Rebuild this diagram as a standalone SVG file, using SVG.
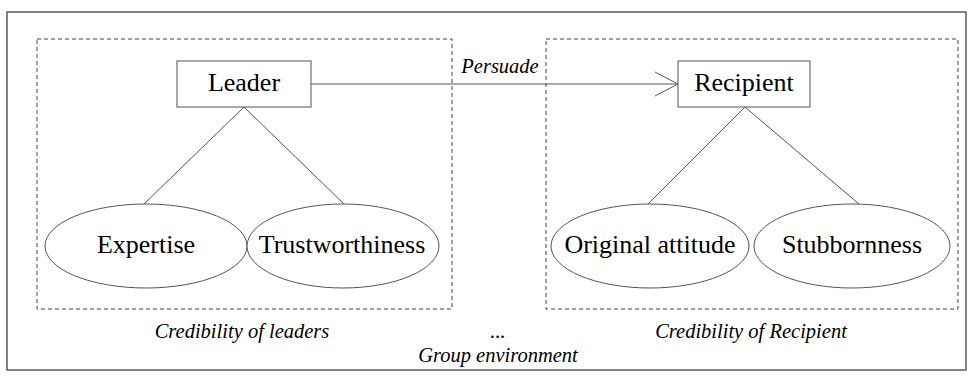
<svg xmlns="http://www.w3.org/2000/svg" width="974" height="376" viewBox="0 0 974 376">
<style>
.outer{fill:#fff;stroke:#444;stroke-width:1.3}
.grp{fill:none;stroke:#444;stroke-width:1;stroke-dasharray:4,3}
.box{fill:#fff;stroke:#555;stroke-width:1}
.ell{fill:#fff;stroke:#555;stroke-width:1}
.ln{fill:none;stroke:#555;stroke-width:1}
text{font-family:'Liberation Serif','Times New Roman',serif;fill:#000;text-anchor:middle}
.t{font-size:26px}
.it{font-size:20.5px;font-style:italic}
</style>
<rect class="outer" x="7" y="12" width="959" height="358"/>
<g id="group-leaders">
<rect class="grp" x="37" y="39" width="415" height="270"/>
<text class="it" x="242" y="338">Credibility of leaders</text>
</g>
<g id="group-recipient">
<rect class="grp" x="546" y="39" width="412" height="270"/>
<text class="it" x="751" y="338">Credibility of Recipient</text>
</g>
<g id="connectors">
<line class="ln" x1="311" y1="84" x2="678" y2="84"/>
<polyline class="ln" points="655,72 678,84 655,96"/>
<text class="it" x="500" y="73">Persuade</text>
<line class="ln" x1="244" y1="107" x2="144" y2="204"/>
<line class="ln" x1="244" y1="107" x2="344" y2="204"/>
<line class="ln" x1="745" y1="107" x2="648" y2="204"/>
<line class="ln" x1="745" y1="107" x2="859" y2="204"/>
</g>
<g id="leader">
<rect class="box" x="177" y="61" width="134" height="46"/>
<text class="t" x="244" y="91">Leader</text>
</g>
<g id="recipient">
<rect class="box" x="678" y="61" width="132" height="46"/>
<text class="t" x="744" y="91">Recipient</text>
</g>
<g id="expertise">
<ellipse class="ell" cx="146" cy="246" rx="101" ry="42"/>
<text class="t" x="146" y="253">Expertise</text>
</g>
<g id="trustworthiness">
<ellipse class="ell" cx="343" cy="246" rx="96" ry="42"/>
<text class="t" x="342" y="253">Trustworthiness</text>
</g>
<g id="original-attitude">
<ellipse class="ell" cx="650" cy="246" rx="99" ry="42"/>
<text class="t" x="650" y="253">Original attitude</text>
</g>
<g id="stubbornness">
<ellipse class="ell" cx="852" cy="246" rx="98" ry="42"/>
<text class="t" x="852" y="253">Stubbornness</text>
</g>
<g id="environment">
<text class="it" x="498" y="338">...</text>
<text class="it" x="498" y="362">Group environment</text>
</g>
</svg>
